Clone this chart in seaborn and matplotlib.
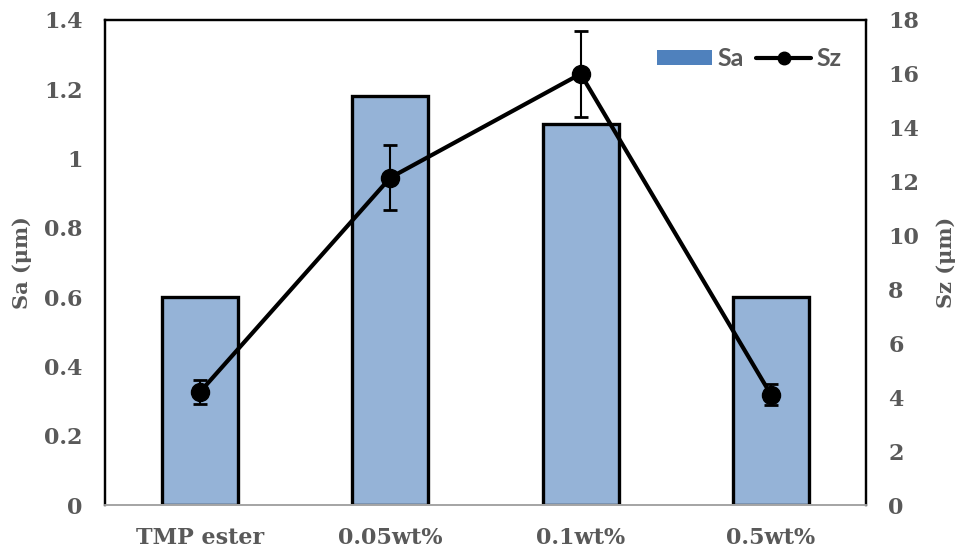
import matplotlib
matplotlib.use("Agg")
import matplotlib.pyplot as plt
import seaborn as sns
import pandas as pd
from matplotlib.patches import Patch
from matplotlib.lines import Line2D

categories = ["TMP ester", "0.05wt%", "0.1wt%", "0.5wt%"]
sa_values = [0.60, 1.18, 1.10, 0.60]
sz_values = [4.2, 12.15, 16.0, 4.1]
sz_err = [0.45, 1.2, 1.6, 0.4]

sns.set_theme(style="white")
plt.rcParams['font.family'] = ['DejaVu Serif']

grey = "#595959"
bar_color = "#95B3D7"
legend_blue = "#4F81BD"

fig = plt.figure(figsize=(9.63, 5.53), dpi=100)
ax = fig.add_axes([105/963, 48/553, 761/963, 485/553])

df = pd.DataFrame({"cat": categories, "Sa": sa_values})
sns.barplot(data=df, x="cat", y="Sa", ax=ax, color=bar_color, width=0.4,
            edgecolor="black", linewidth=2.4, saturation=1)
ax.set_xlim(-0.5, 3.5)
ax.set_ylim(0, 1.4)
ax.set_yticks([0, 0.2, 0.4, 0.6, 0.8, 1.0, 1.2, 1.4])
ax.set_yticklabels(["0", "0.2", "0.4", "0.6", "0.8", "1", "1.2", "1.4"])
ax.set_xlabel("")
ax.set_ylabel("Sa (μm)", fontsize=15, fontweight="bold", color=grey, labelpad=9)

ax2 = ax.twinx()
ax2.errorbar(range(len(categories)), sz_values, yerr=sz_err, color="black",
             linewidth=3, marker="o", markersize=13, capsize=5, elinewidth=1.5,
             capthick=2)
ax2.set_ylim(0, 18)
ax2.set_yticks(range(0, 19, 2))
ax2.set_ylabel("Sz (μm)", fontsize=15, fontweight="bold", color=grey, labelpad=12)

for a in (ax, ax2):
    a.tick_params(axis="both", length=0, labelsize=16, labelcolor=grey)
    for lab in a.get_yticklabels() + a.get_xticklabels():
        lab.set_fontweight("bold")

ax.tick_params(axis="y", pad=16)
ax2.tick_params(axis="y", pad=16)
ax.tick_params(axis="x", pad=16)
for a in (ax, ax2):
    for s in a.spines.values():
        s.set_color("black")
        s.set_linewidth(1.6)
    a.spines["bottom"].set_color("#A6A6A6")
    a.spines["bottom"].set_linewidth(1.3)

handles = [Patch(facecolor=legend_blue, edgecolor="none"),
           Line2D([0], [0], color="black", linewidth=3, marker="o", markersize=9)]
leg = ax2.legend(handles, ["Sa", "Sz"], loc="upper right", ncol=2, frameon=False,
                 prop={"family": "Lato", "weight": "bold", "size": 18},
                 handlelength=2.2, handleheight=0.55, columnspacing=0.5,
                 handletextpad=0.2, bbox_to_anchor=(0.997, 0.99))
for t in leg.get_texts():
    t.set_color(grey)

fig.savefig("out.png", dpi=100)
